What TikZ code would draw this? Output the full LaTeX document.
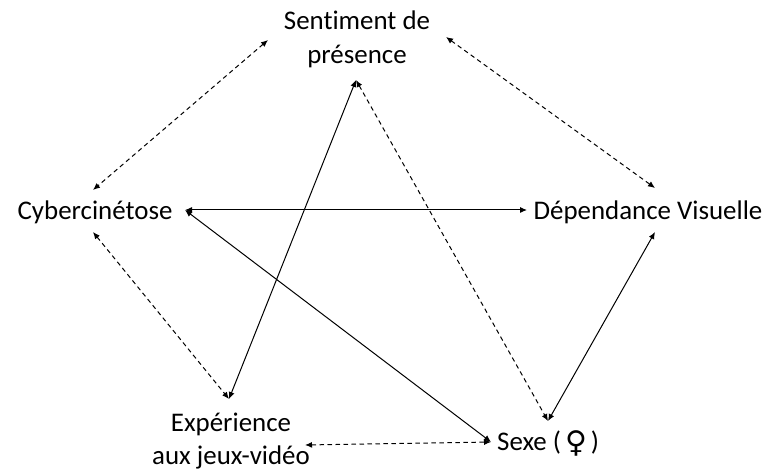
\documentclass[tikz,border=0pt]{standalone}
\usepackage{fontspec}
\setmainfont{Carlito}[Ligatures=NoCommon]
\newfontfamily\symf{DejaVu Sans}
\usetikzlibrary{arrows.meta}
\tikzset{
  lbl/.style={font=\fontsize{27}{34}\selectfont, align=center, inner sep=0pt},
  rel/.style={line width=1bp, {Latex[length=7bp,width=6bp]}-{Latex[length=7bp,width=6bp]}},
  corr/.style={rel, dash pattern=on 4.5bp off 3.5bp},
}
\begin{document}
\begin{tikzpicture}[x=1bp,y=-1bp]
\useasboundingbox (0,0) rectangle (771,472);
\node[lbl] (sent) at (357,39) {Sentiment de\\présence};
\node[lbl] (cyb) at (95,212) {Cybercinétose};
\node[lbl] (dep) at (648,212) {Dépendance Visuelle};
\node[lbl] (exp) at (231,441) {Expérience\\aux jeux-vidéo};
\node[lbl, anchor=west] (sexe) at (497,443) {Sexe (\hspace{4bp}{\symf\fontsize{30}{30}\selectfont\raisebox{-2bp}{♀}}\hspace{4bp})};
% attachment points
\coordinate (sentL) at (268,40);
\coordinate (sentR) at (446,37);
\coordinate (sentB) at (356,80);
\coordinate (cybT) at (93,190);
\coordinate (cybB) at (93,232);
\coordinate (cybR) at (185,210);
\coordinate (depL) at (527,210);
\coordinate (depT) at (655,188);
\coordinate (depB) at (655,232);
\coordinate (expT) at (229,399);
\coordinate (expR) at (305,445);
\coordinate (sexL) at (491,442);
\coordinate (sexT) at (548,421);
% correlations (dashed)
\draw[corr] (sentL) -- (cybT);
\draw[corr] (sentR) -- (depT);
\draw[corr] (cybB) -- (expT);
\draw[corr] (expR) -- (sexL);
\draw[corr] (sentB) -- (sexT);
% relations (solid)
\draw[rel] (cybR) -- (depL);
\draw[rel] (cybR) -- (sexL);
\draw[rel] (sentB) -- (expT);
\draw[rel] (depB) -- (sexT);
\end{tikzpicture}
\end{document}
